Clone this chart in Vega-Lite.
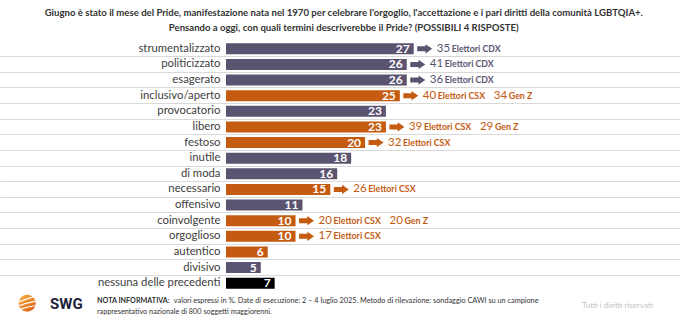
{
  "$schema": "https://vega.github.io/schema/vega-lite/v6.json",
  "width": 454,
  "height": 250,
  "autosize": {"type": "none"},
  "padding": {"left": 226, "top": 41, "right": 0, "bottom": 33},
  "background": "white",
  "config": {"view": {"stroke": null}, "font": "Lato"},
  "title": {
    "text": ["Giugno è stato il mese del Pride, manifestazione nata nel 1970 per celebrare l'orgoglio, l'accettazione e i pari diritti della comunità LGBTQIA+.", "Pensando a oggi, con quali termini descriverebbe il Pride? (POSSIBILI 4 RISPOSTE)"],
    "anchor": "middle",
    "frame": "bounds",
    "font": "Lato",
    "fontSize": 9.6,
    "fontWeight": "bold",
    "color": "#333333",
    "lineHeight": 15,
    "offset": 8,
    "dx": 4
  },
  "data": {
    "values": [
      {"label": "strumentalizzato", "value": 27, "group": "cdx", "n1": "35", "t1": "Elettori CDX"},
      {"label": "politicizzato", "value": 26, "group": "cdx", "n1": "41", "t1": "Elettori CDX"},
      {"label": "esagerato", "value": 26, "group": "cdx", "n1": "36", "t1": "Elettori CDX"},
      {"label": "inclusivo/aperto", "value": 25, "group": "csx", "n1": "40", "t1": "Elettori CSX", "n2": "34", "t2": "Gen Z"},
      {"label": "provocatorio", "value": 23, "group": "cdx"},
      {"label": "libero", "value": 23, "group": "csx", "n1": "39", "t1": "Elettori CSX", "n2": "29", "t2": "Gen Z"},
      {"label": "festoso", "value": 20, "group": "csx", "n1": "32", "t1": "Elettori CSX"},
      {"label": "inutile", "value": 18, "group": "cdx"},
      {"label": "di moda", "value": 16, "group": "cdx"},
      {"label": "necessario", "value": 15, "group": "csx", "n1": "26", "t1": "Elettori CSX"},
      {"label": "offensivo", "value": 11, "group": "cdx"},
      {"label": "coinvolgente", "value": 10, "group": "csx", "n1": "20", "t1": "Elettori CSX", "n2": "20", "t2": "Gen Z"},
      {"label": "orgoglioso", "value": 10, "group": "csx", "n1": "17", "t1": "Elettori CSX"},
      {"label": "autentico", "value": 6, "group": "csx"},
      {"label": "divisivo", "value": 5, "group": "cdx"},
      {"label": "nessuna delle precedenti", "value": 7, "group": "none"}
    ]
  },
  "layer": [
    {
      "mark": {"type": "bar", "height": {"band": 0.7}},
      "encoding": {
        "y": {
          "field": "label", "type": "nominal", "sort": null,
          "scale": {"paddingInner": 0, "paddingOuter": 0},
          "axis": {
            "title": null,
            "bandPosition": 0,
            "domain": false,
            "ticks": true,
            "tickSize": 226,
            "tickColor": "#d9d9d9",
            "tickOpacity": {"condition": {"test": "datum.value === 'strumentalizzato'", "value": 0}, "value": 1},
            "grid": true,
            "gridColor": "#d9d9d9",
            "gridOpacity": {"condition": {"test": "datum.value === 'strumentalizzato'", "value": 0}, "value": 1},
            "labelPadding": -220,
            "labelFont": "Lato",
            "labelFontSize": 11.3,
            "labelColor": "#404040"
          }
        },
        "x": {"field": "value", "type": "quantitative", "scale": {"domain": [0, 65.3], "nice": false, "zero": true}, "axis": null},
        "color": {
          "field": "group", "type": "nominal",
          "scale": {"domain": ["cdx", "csx", "none"], "range": ["#5b5470", "#c55a11", "#000000"]},
          "legend": null
        }
      }
    },
    {
      "mark": {"type": "text", "align": "right", "baseline": "middle", "dx": -4, "fontSize": 12, "fontWeight": "bold", "color": "white"},
      "encoding": {
        "y": {"field": "label", "type": "nominal", "sort": null},
        "x": {"field": "value", "type": "quantitative"},
        "text": {"field": "value", "type": "quantitative"}
      }
    },
    {
      "transform": [{"filter": "datum.n1 != null"}],
      "mark": {"type": "point", "shape": "M-1,-0.33L0.1,-0.33L0.1,-0.62L1,0L0.1,0.62L0.1,0.33L-1,0.33Z", "filled": true, "size": 225, "opacity": 1, "xOffset": 11},
      "encoding": {
        "y": {"field": "label", "type": "nominal", "sort": null},
        "x": {"field": "value", "type": "quantitative"},
        "color": {"field": "group", "type": "nominal"}
      }
    },
    {
      "transform": [{"filter": "datum.n1 != null"}],
      "mark": {"type": "text", "align": "left", "baseline": "middle", "dx": 23, "fontSize": 11.5},
      "encoding": {
        "y": {"field": "label", "type": "nominal", "sort": null},
        "x": {"field": "value", "type": "quantitative"},
        "text": {"field": "n1"},
        "color": {"field": "group", "type": "nominal"}
      }
    },
    {
      "transform": [{"filter": "datum.n1 != null"}],
      "mark": {"type": "text", "align": "left", "baseline": "middle", "dx": 38, "fontSize": 8.8, "fontWeight": "bold"},
      "encoding": {
        "y": {"field": "label", "type": "nominal", "sort": null},
        "x": {"field": "value", "type": "quantitative"},
        "text": {"field": "t1"},
        "color": {"field": "group", "type": "nominal"}
      }
    },
    {
      "transform": [{"filter": "datum.n2 != null"}],
      "mark": {"type": "text", "align": "left", "baseline": "middle", "dx": 94, "fontSize": 11.5},
      "encoding": {
        "y": {"field": "label", "type": "nominal", "sort": null},
        "x": {"field": "value", "type": "quantitative"},
        "text": {"field": "n2"},
        "color": {"field": "group", "type": "nominal"}
      }
    },
    {
      "transform": [{"filter": "datum.n2 != null"}],
      "mark": {"type": "text", "align": "left", "baseline": "middle", "dx": 109, "fontSize": 8.8, "fontWeight": "bold"},
      "encoding": {
        "y": {"field": "label", "type": "nominal", "sort": null},
        "x": {"field": "value", "type": "quantitative"},
        "text": {"field": "t2"},
        "color": {"field": "group", "type": "nominal"}
      }
    },
    {
      "data": {"values": [{"item": "logo"}]},
      "mark": {
        "type": "point", "shape": "circle", "filled": true, "size": 290, "opacity": 1, "yOffset": 20,
        "color": {"gradient": "linear", "x1": 0, "y1": 0, "x2": 1, "y2": 1, "stops": [{"offset": 0, "color": "#f9b347"}, {"offset": 1, "color": "#e0570b"}]}
      },
      "encoding": {
        "x": {"datum": -28.6},
        "y": {"datum": "nessuna delle precedenti"}
      }
    },
    {
      "data": {"values": [{"item": "logo"}]},
      "mark": {
        "type": "point", "shape": "M-0.95,-0.15Q0,-0.55 0.75,-0.75M-0.98,0.3Q0,-0.05 0.98,-0.25M-0.75,0.7Q0.1,0.4 0.92,0.3",
        "filled": false, "size": 290, "opacity": 1, "strokeWidth": 1.2, "color": "white", "yOffset": 20
      },
      "encoding": {
        "x": {"datum": -28.6},
        "y": {"datum": "nessuna delle precedenti"}
      }
    },
    {
      "data": {"values": [{"t": "SWG"}]},
      "mark": {"type": "text", "align": "left", "baseline": "middle", "fontSize": 15, "fontWeight": "bold", "color": "#20203a", "font": "Roboto", "yOffset": 21},
      "encoding": {
        "x": {"datum": -25.3},
        "y": {"datum": "nessuna delle precedenti"},
        "text": {"field": "t"}
      }
    },
    {
      "data": {"values": [{"t": "NOTA INFORMATIVA:"}]},
      "mark": {"type": "text", "align": "left", "baseline": "middle", "fontSize": 7.2, "fontWeight": "bold", "color": "#333333", "yOffset": 18},
      "encoding": {
        "x": {"datum": -18.56},
        "y": {"datum": "nessuna delle precedenti"},
        "text": {"field": "t"}
      }
    },
    {
      "data": {"values": [{"t": "valori espressi in %. Date di esecuzione: 2 – 4 luglio 2025. Metodo di rilevazione: sondaggio CAWI su un campione"}]},
      "mark": {"type": "text", "align": "left", "baseline": "middle", "fontSize": 7.3, "color": "#333333", "yOffset": 18},
      "encoding": {
        "x": {"datum": -7.5},
        "y": {"datum": "nessuna delle precedenti"},
        "text": {"field": "t"}
      }
    },
    {
      "data": {"values": [{"t": "rappresentativo nazionale di 800 soggetti maggiorenni."}]},
      "mark": {"type": "text", "align": "left", "baseline": "middle", "fontSize": 7.3, "color": "#333333", "yOffset": 29},
      "encoding": {
        "x": {"datum": -18.56},
        "y": {"datum": "nessuna delle precedenti"},
        "text": {"field": "t"}
      }
    },
    {
      "data": {"values": [{"t": "Tutti i diritti riservati"}]},
      "mark": {"type": "text", "align": "left", "baseline": "middle", "fontSize": 8, "color": "#c4c4c4", "yOffset": 23},
      "encoding": {
        "x": {"datum": 51.2},
        "y": {"datum": "nessuna delle precedenti"},
        "text": {"field": "t"}
      }
    }
  ]
}
